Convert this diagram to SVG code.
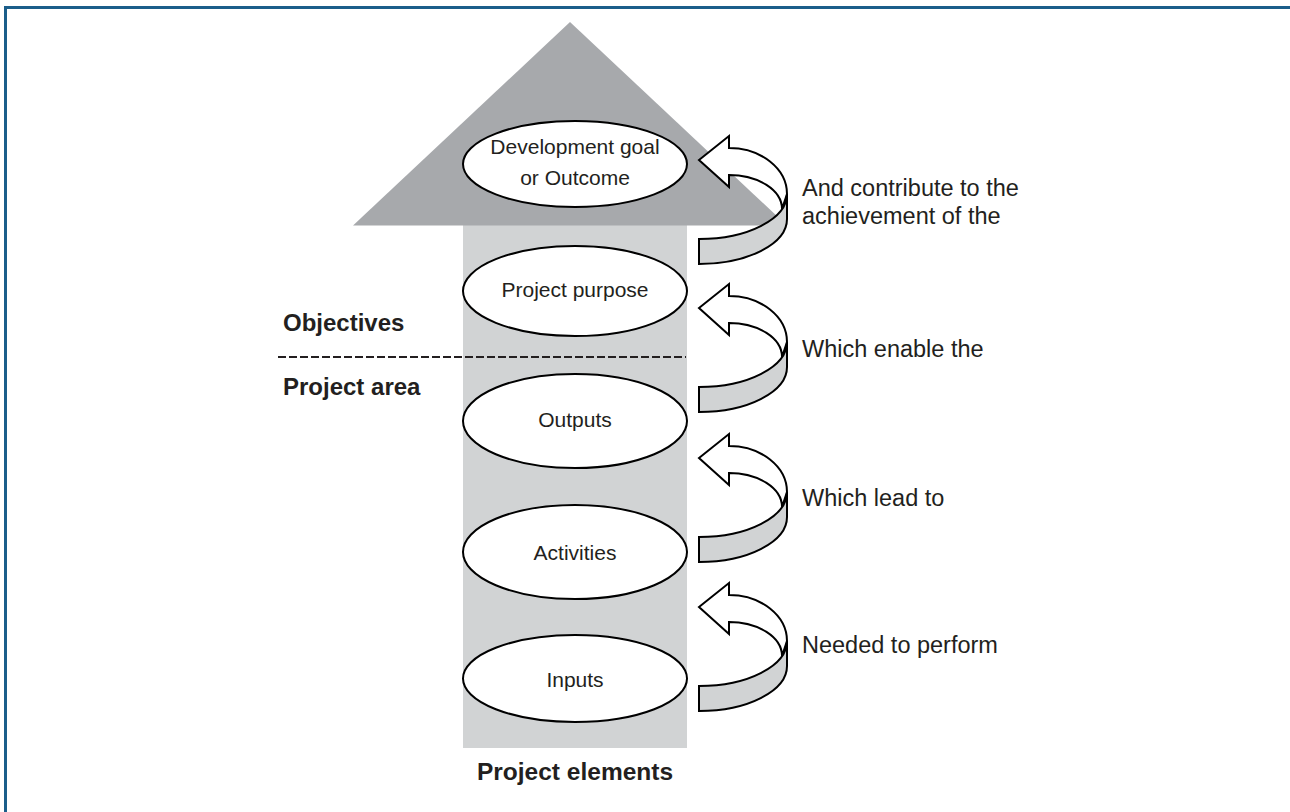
<svg xmlns="http://www.w3.org/2000/svg" width="1290" height="812" viewBox="0 0 1290 812">
  <style>
    text { font-family: "Liberation Sans", Arial, sans-serif; fill: #231f20; }
    .nl { font-size: 21px; text-anchor: middle; }
    .side { font-size: 24px; font-weight: bold; }
    .al { font-size: 23.5px; }
    .node { fill: #ffffff; stroke: #000000; stroke-width: 2; }
    .head { fill: #ffffff; stroke: #000000; stroke-width: 2; stroke-linejoin: miter; }
    .band { fill: #d1d3d4; stroke: #000000; stroke-width: 2; stroke-linejoin: miter; }
  </style>
  <defs>
    <g id="curl">
      <path class="head" d="M699,0 L729,-24 L729,-12 A58,46 0 0 1 787,34 L782,49 A53,34 0 0 0 729,15 L729,27 Z"/>
      <path class="band" d="M699,79 A88,45 0 0 0 787,34 L787,59 A88,45 0 0 1 699,104 Z"/>
    </g>
  </defs>
  <rect x="0" y="0" width="1290" height="812" fill="#ffffff"/>
  <g id="frame" fill="none" stroke="#1b5e8a" stroke-width="3">
    <line x1="4.5" y1="7.5" x2="1290" y2="7.5"/>
    <line x1="5.5" y1="6" x2="5.5" y2="812"/>
  </g>
  <g id="shaft">
    <rect x="463" y="225" width="224" height="523" fill="#d1d3d4"/>
    <polygon points="570,22 353,225.5 787,225.5" fill="#a7a9ac"/>
  </g>
  <g id="divider">
    <line x1="278" y1="357" x2="686" y2="357" stroke="#231f20" stroke-width="2" stroke-dasharray="8,3"/>
    <text class="side" x="283" y="331">Objectives</text>
    <text class="side" x="283" y="395">Project area</text>
  </g>
  <g id="node-goal">
    <ellipse class="node" cx="575" cy="164" rx="112" ry="43"/>
    <text class="nl" x="575" y="154">Development goal</text>
    <text class="nl" x="575" y="185">or Outcome</text>
  </g>
  <g id="node-purpose">
    <ellipse class="node" cx="575" cy="291" rx="112" ry="45"/>
    <text class="nl" x="575" y="297">Project purpose</text>
  </g>
  <g id="node-outputs">
    <ellipse class="node" cx="575" cy="421" rx="112" ry="47"/>
    <text class="nl" x="575" y="427">Outputs</text>
  </g>
  <g id="node-activities">
    <ellipse class="node" cx="575" cy="552" rx="112" ry="47"/>
    <text class="nl" x="575" y="560">Activities</text>
  </g>
  <g id="node-inputs">
    <ellipse class="node" cx="575" cy="678.5" rx="112" ry="43.5"/>
    <text class="nl" x="575" y="687">Inputs</text>
  </g>
  <g id="connectors">
    <use href="#curl" transform="translate(0,160)"/>
    <use href="#curl" transform="translate(0,308)"/>
    <use href="#curl" transform="translate(0,458)"/>
    <use href="#curl" transform="translate(0,607)"/>
  </g>
  <g id="labels">
    <text class="al" x="802" y="196">And contribute to the</text>
    <text class="al" x="802" y="224">achievement of the</text>
    <text class="al" x="802" y="357">Which enable the</text>
    <text class="al" x="802" y="506">Which lead to</text>
    <text class="al" x="802" y="653">Needed to perform</text>
  </g>
  <text class="side" x="575" y="780" text-anchor="middle" style="font-size:24.5px">Project elements</text>
</svg>
